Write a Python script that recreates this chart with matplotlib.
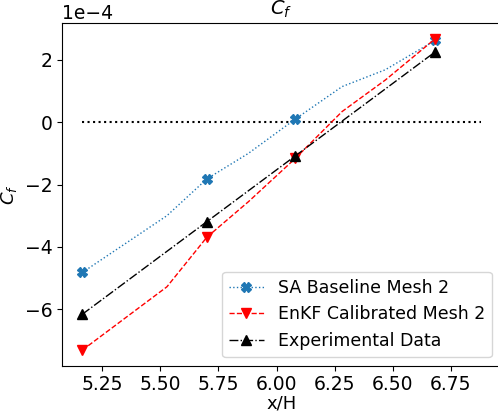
import matplotlib
matplotlib.use('Agg')
import matplotlib.pyplot as plt
import numpy as np

# skin friction along the bottom wall, values in units of 1e-4
x_sim = [5.164, 5.528, 5.700, 5.879, 6.081, 6.282, 6.468, 6.682]
cf_sa = [-4.82, -3.00, -1.82, -1.00, 0.10, 1.14, 1.68, 2.62]
cf_enkf = [-7.31, -5.28, -3.69, -2.55, -1.16, 0.34, 1.35, 2.67]
marker_idx = [0, 2, 4, 7]

x_exp = [5.164, 5.700, 6.081, 6.682]
cf_exp = [-6.16, -3.19, -1.08, 2.25]

x_zero = [5.164, 6.878]

scale = 1e-4
fs = 13

fig = plt.figure(figsize=(4.98, 4.12), dpi=100)
axes = fig.add_axes([0.1253, 0.1124, 0.8797, 0.8310])

axes.plot(x_zero, [0, 0], color='black', linestyle=':', linewidth=1.5)
axes.plot(x_sim, np.array(cf_sa) * scale, color='tab:blue', linestyle=':',
          linewidth=1, marker='X', markersize=6.5, markevery=marker_idx,
          label='SA Baseline Mesh 2')
axes.plot(x_sim, np.array(cf_enkf) * scale, color='red', linestyle='--',
          linewidth=1, marker='v', markersize=6.5, markevery=marker_idx,
          label='EnKF Calibrated Mesh 2')
axes.plot(x_exp, np.array(cf_exp) * scale, color='black', linestyle='-.',
          linewidth=1, marker='^', markersize=6.5,
          label='Experimental Data')

axes.ticklabel_format(axis='y', style='sci', scilimits=(0, 0))
axes.set_title('$C_f$', fontsize=fs + 1)
axes.set_xlabel('x/H', fontsize=fs, labelpad=0)
axes.set_ylabel('$C_f$', fontsize=fs)
axes.tick_params(labelsize=13.5)
axes.yaxis.get_offset_text().set_fontsize(13.5)
axes.set_xticks([5.25, 5.50, 5.75, 6.00, 6.25, 6.50, 6.75])

axes.legend(loc='lower right', fontsize=12.5)

plt.savefig('out.png', dpi=100)
